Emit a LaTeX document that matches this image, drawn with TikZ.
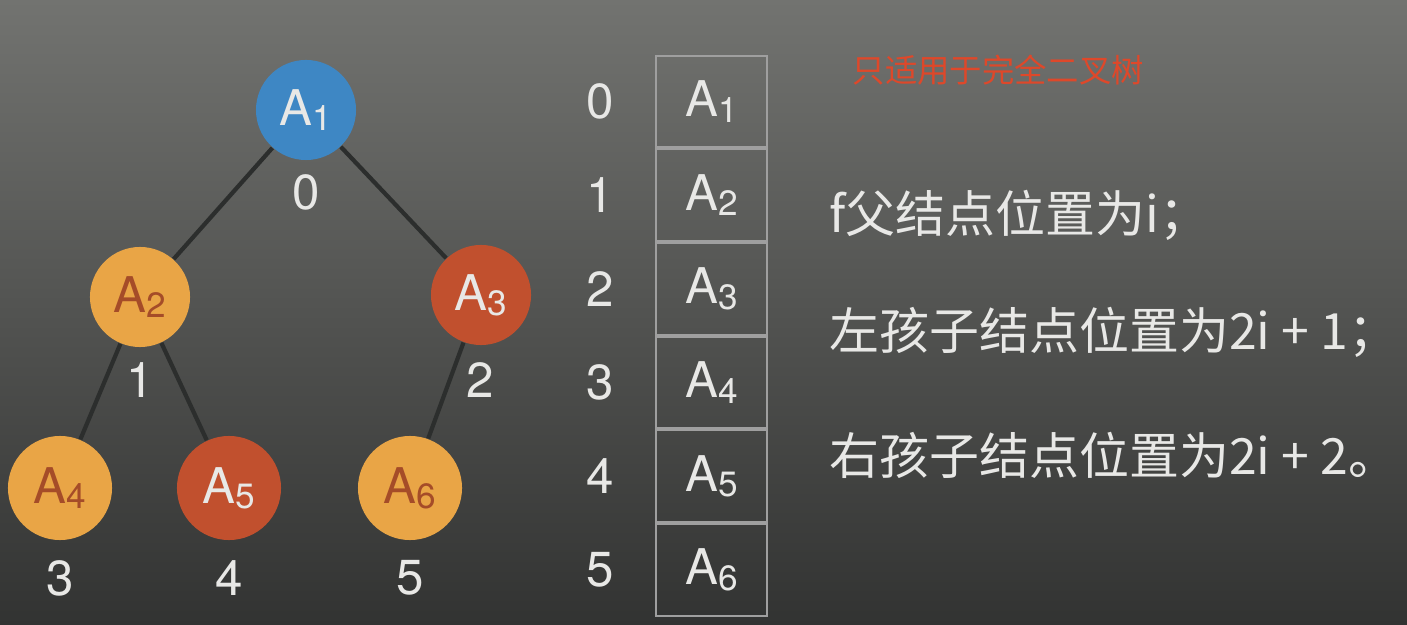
\documentclass[tikz,border=0pt]{standalone}
\usepackage{fontspec}
\setmainfont{TeX Gyre Heros}
\newfontfamily\cjk{Noto Sans CJK SC}
\usetikzlibrary{positioning}
\definecolor{fondoA}{RGB}{114,115,112}
\definecolor{fondoB}{RGB}{50,51,50}
\definecolor{azul}{RGB}{62,135,196}
\definecolor{naranja}{RGB}{233,165,70}
\definecolor{rojo}{RGB}{193,80,46}
\definecolor{tinta}{RGB}{165,76,40}
\definecolor{claro}{RGB}{232,232,230}
\definecolor{arista}{RGB}{44,46,45}
\definecolor{aviso}{RGB}{222,72,42}
\newcommand{\An}[1]{A\raisebox{-0.2ex}{\fontsize{10}{10}\selectfont #1}}
\begin{document}
\begin{tikzpicture}[x=0.01cm, y=-0.01cm,
  nodo/.style={circle, minimum size=1cm, inner sep=0pt, font=\fontsize{14}{14}\selectfont},
  hojaN/.style={nodo, fill=naranja, text=tinta},
  hojaR/.style={nodo, fill=rojo, text=claro},
  celda/.style={draw=gray!75, line width=0.6pt, minimum width=1.11cm, minimum height=0.915cm, inner sep=0pt, text=claro, font=\fontsize{14}{14}\selectfont},
  indice/.style={text=claro, font=\fontsize{14}{14}\selectfont},
  regla/.style={anchor=west, inner sep=0pt, text=claro, font=\cjk\fontsize{14.2}{14.2}\selectfont}]
% fondo
\useasboundingbox (0,0) rectangle (1407,625);
\fill[top color=fondoA, bottom color=fondoB] (0,0) rectangle (1407,625);
% arbol
\node[nodo, fill=azul, text=claro] (a1) at (306,110) {\An{1}};
\node[hojaN] (a2) at (140,297) {\An{2}};
\node[hojaR] (a3) at (481,295) {\An{3}};
\node[hojaN, minimum size=1.04cm] (a4) at (60,488)  {\An{4}};
\node[hojaR, minimum size=1.04cm] (a5) at (229,488) {\An{5}};
\node[hojaN, minimum size=1.04cm] (a6) at (410,488) {\An{6}};
\draw[arista, line width=1.2pt] (a1) -- (a2);
\draw[arista, line width=1.2pt] (a1) -- (a3);
\draw[arista, line width=1.2pt] (a2) -- (a4);
\draw[arista, line width=1.2pt] (a2) -- (a5);
\draw[arista, line width=1.2pt] (a3) -- (a6);
\node[indice] (n0) at (306,192) {0};
\node[indice] (n1) at (140,380) {1};
\node[indice] (n2) at (480,380) {2};
\node[indice] (n3) at (60,578)  {3};
\node[indice] (n4) at (229,578) {4};
\node[indice] (n5) at (410,578) {5};
% arreglo
\node[celda] (c0) at (711.5,101.5) {\An{1}};
\node[celda, below=0pt of c0] (c1) {\An{2}};
\node[celda, below=0pt of c1] (c2) {\An{3}};
\node[celda, below=0pt of c2] (c3) {\An{4}};
\node[celda, below=0pt of c3] (c4) {\An{5}};
\node[celda, below=0pt of c4] (c5) {\An{6}};
\node[indice] (i0) at (600,0 |- c0) {0};
\node[indice] (i1) at (600,0 |- c1) {1};
\node[indice] (i2) at (600,0 |- c2) {2};
\node[indice] (i3) at (600,0 |- c3) {3};
\node[indice] (i4) at (600,0 |- c4) {4};
\node[indice] (i5) at (600,0 |- c5) {5};
% reglas
\node[anchor=west, inner sep=0pt, text=aviso, font=\cjk\fontsize{9.2}{9.2}\selectfont] (aviso) at (852,70) {只适用于完全二叉树};
\node[regla] (r1) at (829,215) {f父结点位置为i；};
\node[regla] (r2) at (829,332) {左孩子结点位置为2i + 1；};
\node[regla] (r3) at (829,455) {右孩子结点位置为2i + 2。};
\end{tikzpicture}
\end{document}
